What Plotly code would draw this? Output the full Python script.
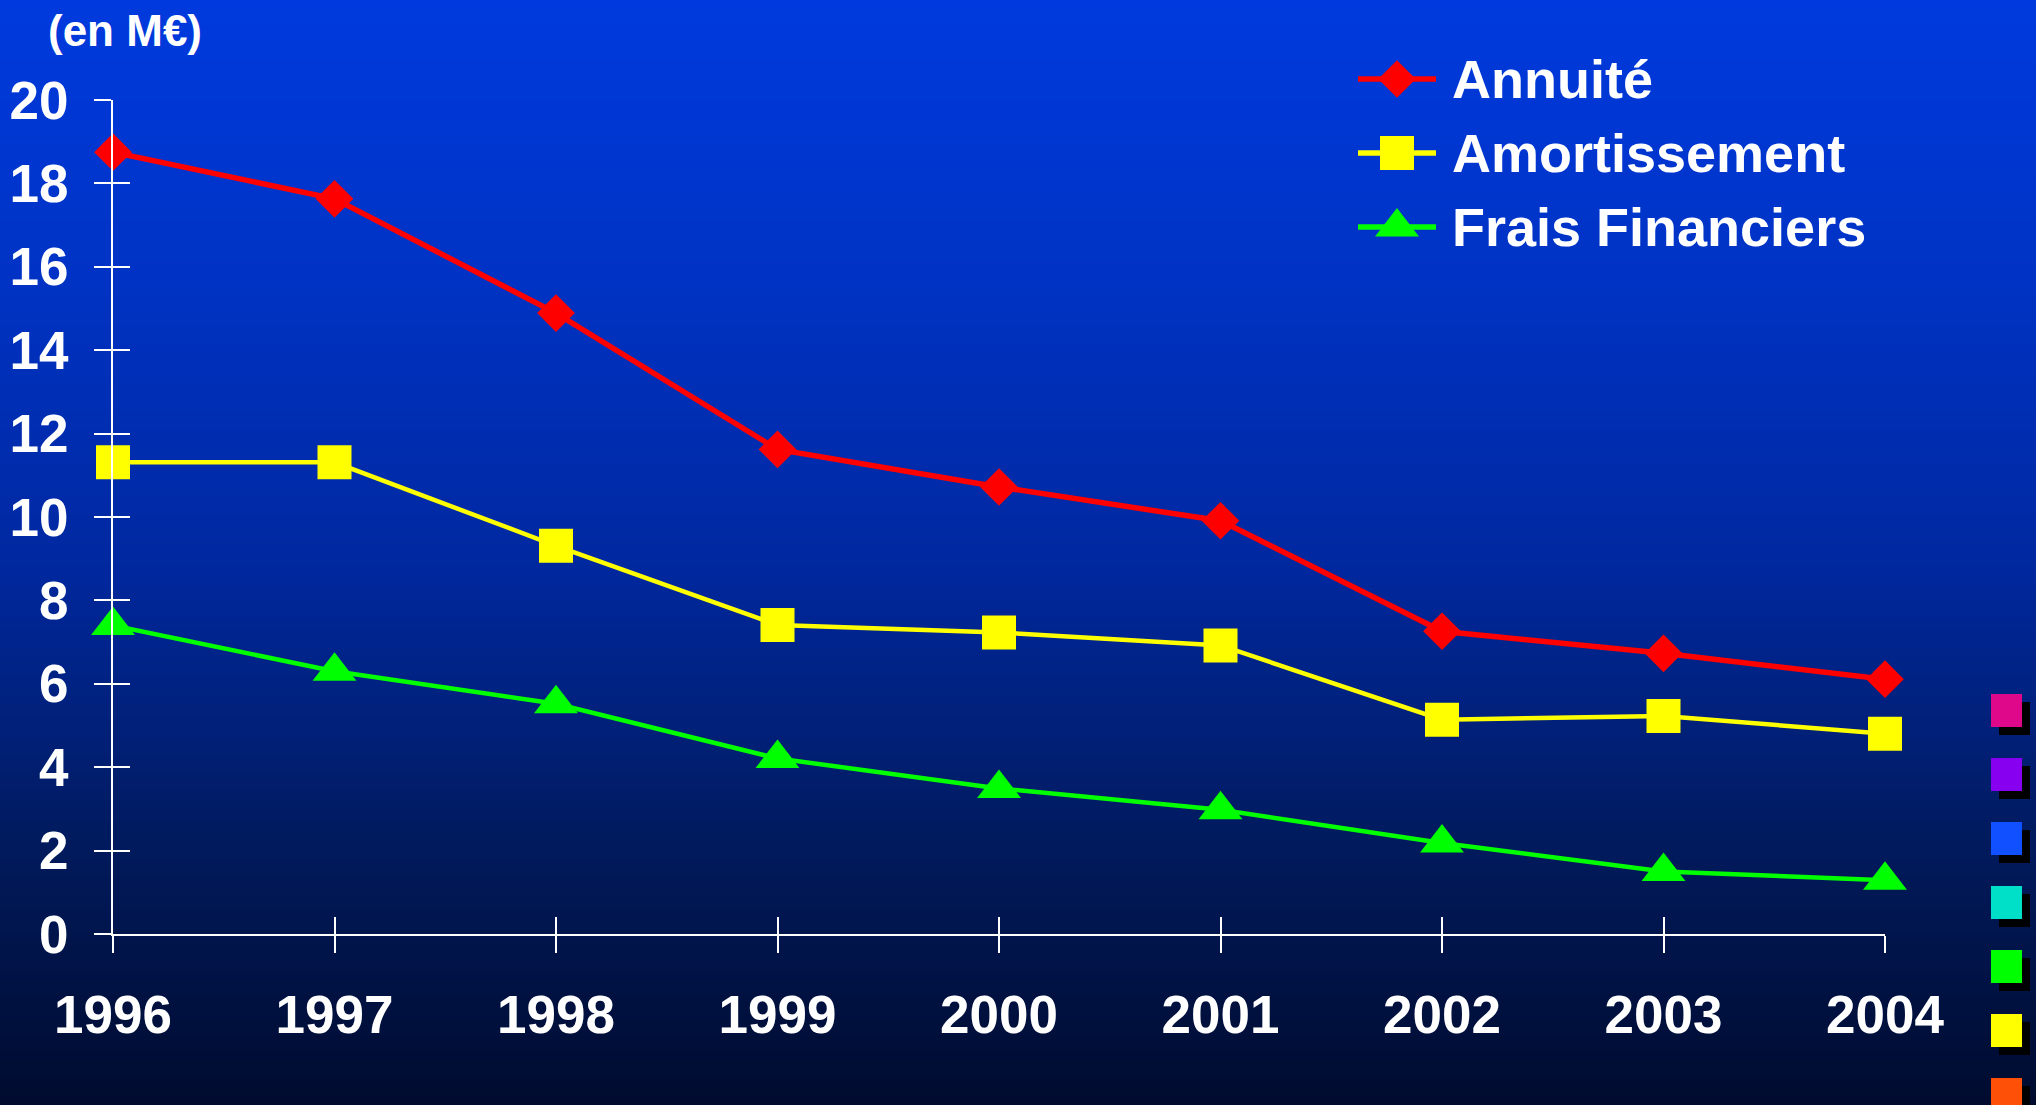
import plotly.graph_objects as go

# data (en M€)
years = [1996, 1997, 1998, 1999, 2000, 2001, 2002, 2003, 2004]
annuite = [18.75, 17.63, 14.89, 11.62, 10.72, 9.91, 7.26, 6.73, 6.11]
amortissement = [11.31, 11.31, 9.31, 7.41, 7.23, 6.92, 5.14, 5.23, 4.80]
frais_financiers = [7.40, 6.30, 5.52, 4.21, 3.49, 2.98, 2.18, 1.50, 1.29]
series_names = ["Annuité", "Amortissement", "Frais Financiers"]
y_ticks = [0, 2, 4, 6, 8, 10, 12, 14, 16, 18, 20]

# page geometry (pixels)
FW, FH = 2036, 1105
L, R, T, B = 113, 151, 40, 171
W = FW - L - R
H = FH - T - B


def px_x(p):
    return (p - L) / W


def px_y(p):
    return (FH - B - p) / H


FONT = "Liberation Sans, Arial, sans-serif"
series = [
    (annuite, "#ff0000", "diamond", 29, 5.5),
    (amortissement, "#ffff00", "square", 34, 4.5),
    (frais_financiers, "#00ff00", "triangle-up", 38, 4.5),
]

fig = go.Figure()
for (vals, color, symbol, size, lw), name in zip(series, series_names):
    fig.add_trace(go.Scatter(
        x=years, y=vals, name=name, mode="lines+markers",
        line=dict(color=color, width=lw),
        marker=dict(symbol=symbol, size=size, color=color, line=dict(width=0)),
        cliponaxis=False, showlegend=False,
    ))

# empty trace so the overlay axes (crossing ticks) get drawn
fig.add_trace(go.Scatter(x=[], y=[], xaxis="x2", yaxis="y2", showlegend=False))

# hand-made legend on its own small axes
for row, ((vals, color, symbol, size, lw), name) in enumerate(zip(series, series_names)):
    yrow = 2 - row
    fig.add_trace(go.Scatter(
        x=[0, 1], y=[yrow, yrow], mode="lines", xaxis="x3", yaxis="y3",
        line=dict(color=color, width=5.5), showlegend=False, hoverinfo="skip",
        cliponaxis=False,
    ))
    fig.add_trace(go.Scatter(
        x=[0.5], y=[yrow], mode="markers", xaxis="x3", yaxis="y3",
        marker=dict(symbol=symbol, size=size, color=color, line=dict(width=0)),
        showlegend=False, hoverinfo="skip", cliponaxis=False,
    ))
    fig.add_annotation(
        x=px_x(1450), xref="paper", y=yrow, yref="y3", text=name,
        xanchor="left", yanchor="middle", showarrow=False,
        font=dict(family=FONT, size=54, color="white", weight="bold"),
    )

fig.add_annotation(
    x=px_x(125), xref="paper", y=px_y(30), yref="paper", text="(en M€)",
    xanchor="center", yanchor="middle", showarrow=False,
    font=dict(family=FONT, size=44, color="white", weight="bold"),
)

# background gradient
stops = [(0, (0, 58, 222)), (280, (0, 51, 196)), (560, (0, 40, 160)),
         (850, (1, 26, 92)), (1105, (0, 11, 46))]
shapes = []
step = 5
for y0 in range(0, FH, step):
    yc = y0 + step / 2
    for (a, ca), (b, cb) in zip(stops[:-1], stops[1:]):
        if a <= yc <= b:
            t = (yc - a) / (b - a)
            c = tuple(round(ca[i] + (cb[i] - ca[i]) * t) for i in range(3))
            break
    shapes.append(dict(
        type="rect", xref="paper", yref="paper", layer="below",
        x0=px_x(0), x1=px_x(FW), y0=px_y(y0 + step + 0.5), y1=px_y(y0),
        fillcolor=f"rgb{c}", line=dict(width=0),
    ))

# decorative colour squares on the right edge
deco = ["#e0088a", "#8800f0", "#1050ff", "#00e0c8", "#00ff00", "#ffff00", "#ff5008"]
for i, col in enumerate(deco):
    top = 694 + 64 * i
    shapes.append(dict(
        type="rect", xref="paper", yref="paper", layer="above",
        x0=px_x(1999), x1=px_x(2030), y0=px_y(top + 41), y1=px_y(top + 8),
        fillcolor="black", line=dict(width=0),
    ))
    shapes.append(dict(
        type="rect", xref="paper", yref="paper", layer="above",
        x0=px_x(1991), x1=px_x(2022), y0=px_y(top + 33), y1=px_y(top),
        fillcolor=col, line=dict(width=0),
    ))

tickfont = dict(family=FONT, size=53, color="white", weight="bold")
ydom = [0, px_y(100)]

fig.update_layout(
    template="none",
    width=FW, height=FH,
    margin=dict(l=L, r=R, t=T, b=B, autoexpand=False),
    paper_bgcolor="rgb(0,11,46)",
    plot_bgcolor="rgba(0,0,0,0)",
    font=dict(family=FONT, color="white"),
    showlegend=False,
    shapes=shapes,
    xaxis=dict(
        range=[years[0], years[-1]], tickvals=years, ticks="outside", ticklen=17,
        tickwidth=2, tickcolor="white", showline=True, linecolor="white", linewidth=2,
        showgrid=False, zeroline=False, tickfont=tickfont, ticklabelstandoff=16,
        anchor="y", automargin=False,
    ),
    xaxis2=dict(
        range=[years[0], years[-1]], tickvals=years, ticks="inside", ticklen=17,
        tickwidth=2, tickcolor="white", showticklabels=False, showline=False,
        showgrid=False, zeroline=False, overlaying="x", anchor="y", automargin=False,
    ),
    yaxis=dict(
        range=[0, 20], domain=ydom, tickvals=y_ticks, ticks="outside", ticklen=17,
        tickwidth=2, tickcolor="white", showline=True, linecolor="white", linewidth=2,
        showgrid=False, zeroline=False, tickfont=tickfont, ticklabelstandoff=15,
        anchor="x", automargin=False,
    ),
    yaxis2=dict(
        range=[0, 20], tickvals=y_ticks, ticks="inside", ticklen=17,
        tickwidth=2, tickcolor="white", showticklabels=False, showline=False,
        showgrid=False, zeroline=False, overlaying="y", anchor="x", automargin=False,
    ),
    xaxis3=dict(domain=[px_x(1358), px_x(1436)], range=[0, 1], visible=False,
                anchor="y3", fixedrange=True),
    yaxis3=dict(domain=[px_y(260), px_y(40)],
                range=[-(260 - 227) / 74, 2 + (79 - 40) / 74],
                visible=False, anchor="x3", fixedrange=True),
)

fig.write_html(
    "out.html",
    config={"displayModeBar": False},
    post_script="document.body.style.margin='0';document.body.style.overflow='hidden';",
)
